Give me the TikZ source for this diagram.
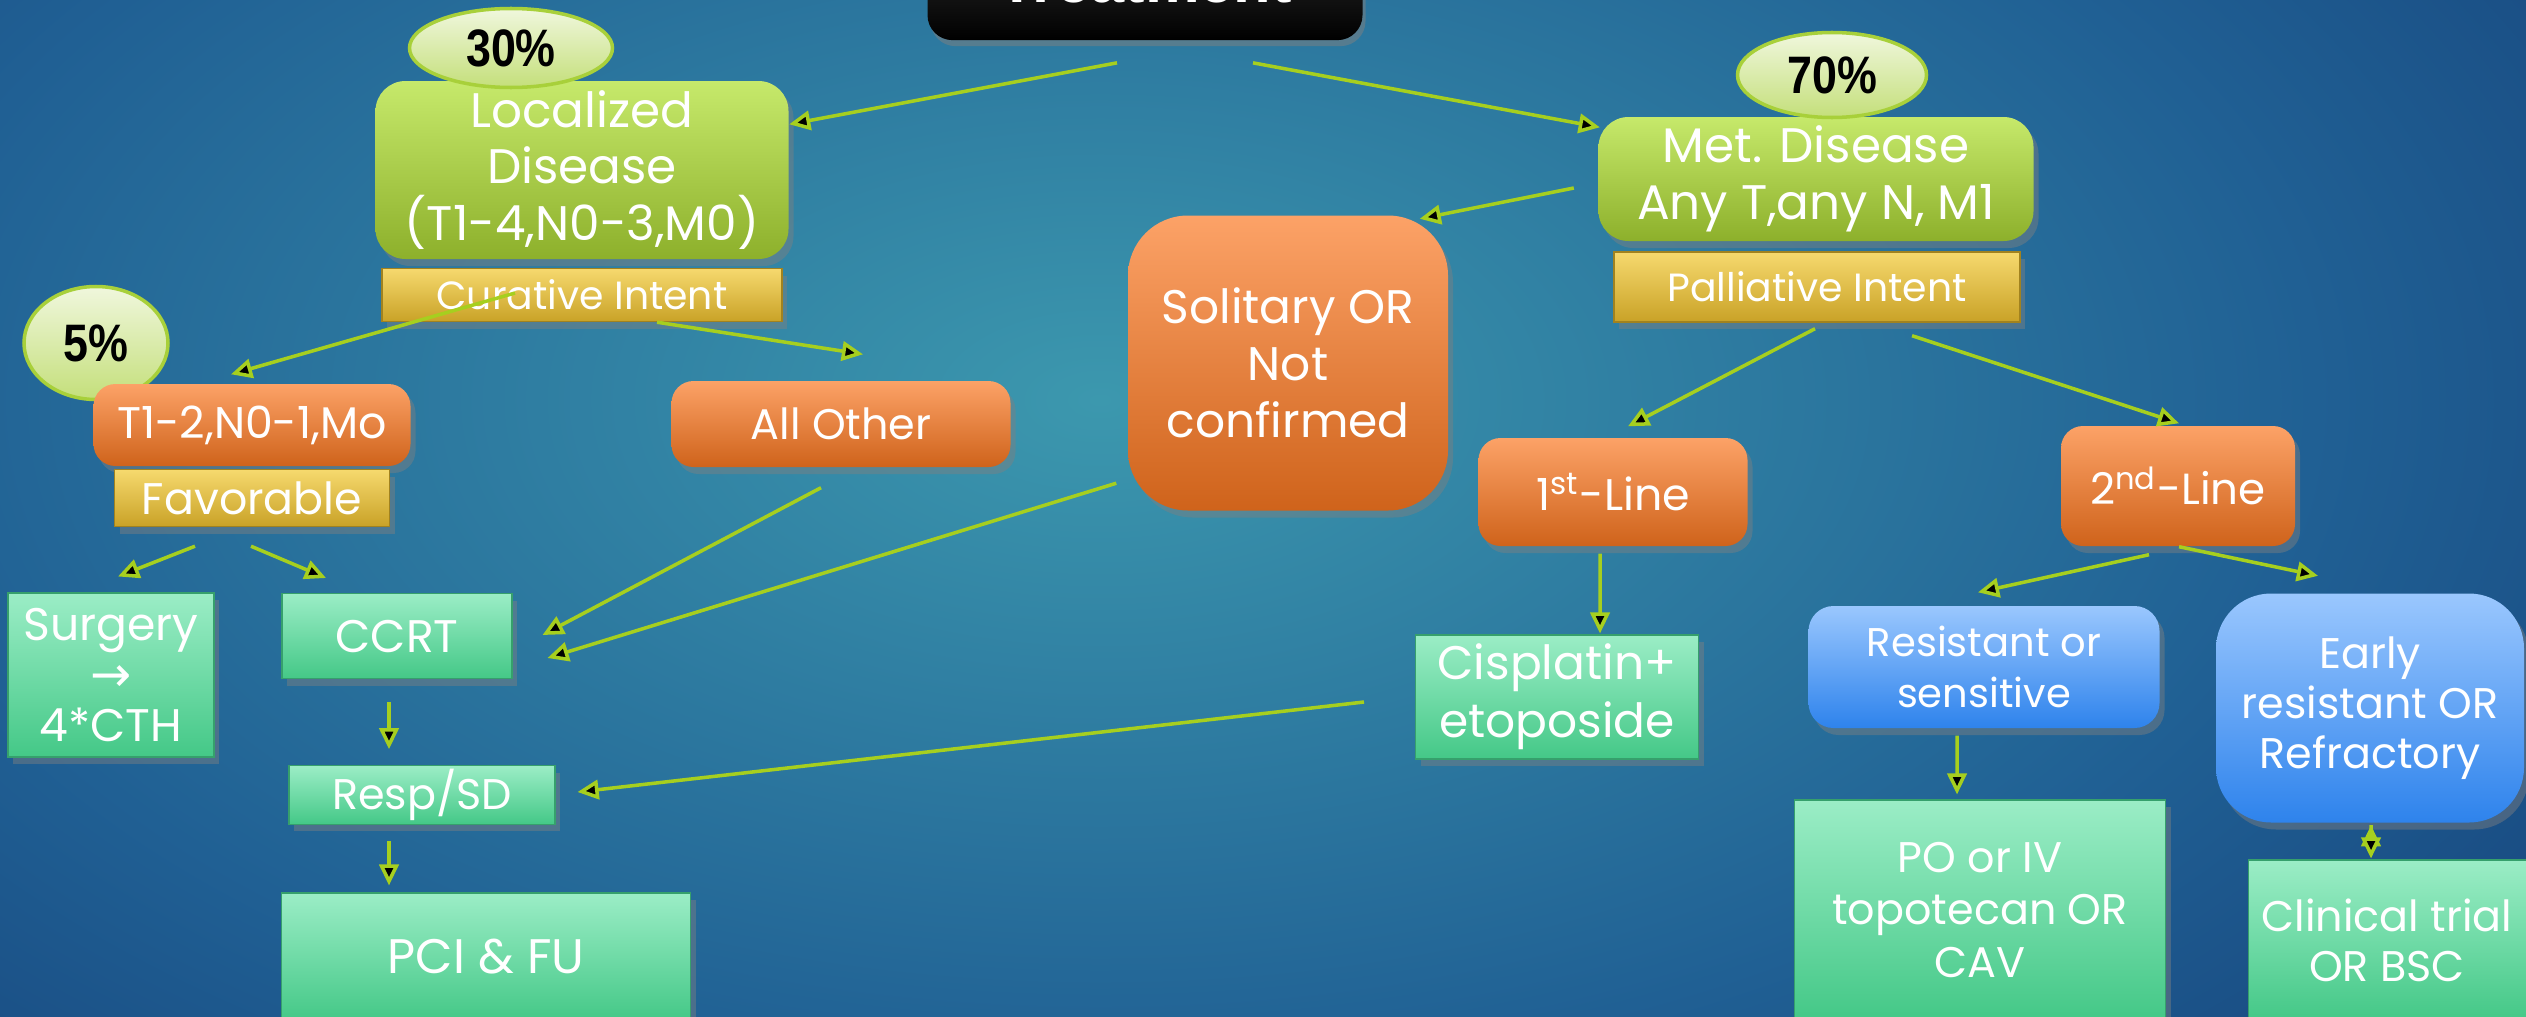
\documentclass[tikz,border=0pt]{standalone}
\usepackage{fontspec}
\setmainfont{Poppins}
\newfontfamily\pctfont[FakeStretch=0.85]{Liberation Sans}
\newfontfamily\titlefont{Liberation Sans}
\newfontfamily\symfont{DejaVu Sans}
\usepackage{tikz}
\usetikzlibrary{arrows.meta,shapes.geometric,shadows,positioning}
\usepackage{xcolor}
\definecolor{bgteal}{RGB}{60,152,174}
\definecolor{bgmid}{RGB}{32,96,148}
\definecolor{bgnavy}{RGB}{12,38,98}
\definecolor{grtop}{RGB}{198,233,107}
\definecolor{grbot}{RGB}{141,176,43}
\definecolor{gdtop}{RGB}{246,217,110}
\definecolor{gdbot}{RGB}{201,162,39}
\definecolor{ortop}{RGB}{252,162,103}
\definecolor{orbot}{RGB}{207,99,27}
\definecolor{mntop}{RGB}{155,237,198}
\definecolor{mnbot}{RGB}{68,200,135}
\definecolor{bltop}{RGB}{154,199,254}
\definecolor{blbot}{RGB}{46,131,236}
\definecolor{eltop}{RGB}{240,247,221}
\definecolor{elbot}{RGB}{196,223,122}
\definecolor{elline}{RGB}{168,208,58}
\definecolor{arrowc}{RGB}{166,207,31}
\pgfdeclareradialshading{bgshade}{\pgfpoint{0bp}{0bp}}{color(0bp)=(bgteal); color(14bp)=(bgmid); color(30bp)=(bgnavy); color(50bp)=(bgnavy)}

\begin{document}
\begin{tikzpicture}[x=1cm,y=1cm,
  box/.style={text=white,align=center,inner sep=1pt,
    drop shadow={opacity=0.45,shadow xshift=0.05cm,shadow yshift=-0.07cm}},
  greenbox/.style={box,rounded corners=0.3cm,top color=grtop,bottom color=grbot},
  goldbox/.style={box,top color=gdtop,bottom color=gdbot,draw=gdbot!80!black,line width=0.4pt},
  orangebox/.style={box,rounded corners=0.22cm,top color=ortop,bottom color=orbot},
  mintbox/.style={box,top color=mntop,bottom color=mnbot,draw=mnbot!80!black,line width=0.3pt},
  bluebox/.style={box,rounded corners=0.25cm,top color=bltop,bottom color=blbot},
  ell/.style={ellipse,inner sep=0pt,top color=eltop,bottom color=elbot,draw=elline,line width=1pt,
    font=\pctfont\bfseries\fontsize{15}{17}\selectfont},
  titlebox/.style={rounded corners=0.25cm,top color=black!80,bottom color=black,text=white,
    minimum width=4.35cm,minimum height=1.18cm,font=\titlefont\bfseries\fontsize{17.5}{20}\selectfont,
    drop shadow={opacity=0.5,shadow xshift=0.03cm,shadow yshift=-0.06cm}},
  arr/.style={-{Triangle[length=6pt,width=5.5pt]},line width=1pt,draw=arrowc}]
\useasboundingbox (0,0) rectangle (25.26,-10.16);
\clip (0,0) rectangle (25.26,-10.16);
\shade[shading=bgshade] (-10.67,8.0) rectangle (32.67,-16.0);

\node[titlebox,anchor=base] (Title) at (11.45,-0.02) {Treatment};

\node[greenbox,minimum width=4.13cm,minimum height=1.78cm,font=\fontsize{13.8}{16.2}\selectfont] (Loc) at (5.82,-1.70) {Localized\\Disease\\(T1-4,N0-3,M0)};
\node[ell,minimum width=2.03cm,minimum height=0.79cm] (P30) at (5.11,-0.48) {30\%};
\node[goldbox,minimum width=4.00cm,minimum height=0.53cm,font=\fontsize{11.2}{13}\selectfont] (Cur) at (5.82,-2.95) {Curative Intent};
\node[ell,minimum width=1.44cm,minimum height=1.13cm] (P5) at (0.96,-3.43) {5\%};
\node[orangebox,minimum width=3.17cm,minimum height=0.82cm,font=\fontsize{12.6}{14}\selectfont] (T12) at (2.52,-4.25) {T1-2,N0-1,Mo};
\node[goldbox,minimum width=2.75cm,minimum height=0.57cm,font=\fontsize{12.6}{14}\selectfont] (Fav) at (2.52,-4.98) {Favorable};
\node[orangebox,minimum width=3.39cm,minimum height=0.86cm,font=\fontsize{12.2}{14}\selectfont] (Oth) at (8.41,-4.24) {All Other};
\node[mintbox,minimum width=2.06cm,minimum height=1.64cm,font=\fontsize{13}{14.4}\selectfont] (Surg) at (1.11,-6.75) {Surgery\\{\symfont\fontsize{14}{14.4}\selectfont →}\\4*CTH};
\node[mintbox,minimum width=2.30cm,minimum height=0.85cm,font=\fontsize{13}{14.2}\selectfont] (CCRT) at (3.97,-6.36) {CCRT};
\node[mintbox,minimum width=2.66cm,minimum height=0.44cm,font=\fontsize{12.2}{14}\selectfont] (Resp) at (4.22,-7.95) {Resp/SD};
\node[mintbox,minimum width=4.09cm,minimum height=1.28cm,font=\fontsize{13.8}{16}\selectfont] (PCI) at (4.86,-9.57) {PCI \& FU};

\node[orangebox,rounded corners=0.6cm,minimum width=3.20cm,minimum height=2.95cm,font=\fontsize{13.4}{16.2}\selectfont] (Sol) at (12.88,-3.63) {Solitary OR\\Not\\confirmed};
\node[greenbox,minimum width=4.35cm,minimum height=1.24cm,font=\fontsize{13.8}{16.2}\selectfont] (Met) at (18.16,-1.79) {Met. Disease\\Any T,any N, M1};
\node[ell,minimum width=1.89cm,minimum height=0.85cm] (P70) at (18.32,-0.75) {70\%};
\node[goldbox,minimum width=4.06cm,minimum height=0.70cm,font=\fontsize{11.2}{13}\selectfont] (Pal) at (18.17,-2.87) {Palliative Intent};
\node[orangebox,minimum width=2.69cm,minimum height=1.08cm,font=\fontsize{12.6}{14}\selectfont] (L1) at (16.13,-4.92) {1\textsuperscript{st}-Line};
\node[orangebox,minimum width=2.34cm,minimum height=1.20cm,font=\fontsize{12.4}{14}\selectfont] (L2) at (21.78,-4.86) {2\textsuperscript{nd}-Line};
\node[mintbox,minimum width=2.83cm,minimum height=1.24cm,font=\fontsize{13.4}{16.5}\selectfont] (Cis) at (15.57,-6.97) {Cisplatin+\\etoposide};
\node[bluebox,minimum width=3.51cm,minimum height=1.22cm,font=\fontsize{11.4}{14.5}\selectfont] (Res) at (19.84,-6.67) {Resistant or\\sensitive};
\node[bluebox,rounded corners=0.55cm,minimum width=3.08cm,minimum height=2.29cm,font=\fontsize{12.2}{14.2}\selectfont] (Early) at (23.70,-7.08) {Early\\resistant OR\\Refractory};
\node[mintbox,minimum width=3.71cm,minimum height=2.20cm,font=\fontsize{12.2}{15}\selectfont] (PO) at (19.80,-9.10) {PO or IV\\topotecan OR\\CAV};
\node[mintbox,minimum width=2.78cm,minimum height=1.60cm,font=\fontsize{12.2}{14.2}\selectfont] (Clin) at (23.87,-9.40) {Clinical trial\\OR BSC};

\path[arr]
([xshift=-0.28cm,yshift=-0.22cm]Title.south) edge ([yshift=-0.44cm]Loc.north east)
([xshift=1.08cm,yshift=-0.22cm]Title.south) edge ([xshift=0.02cm,yshift=-0.11cm]Met.north west)
([xshift=-0.24cm,yshift=-0.09cm]Met.west) edge ([xshift=-0.29cm,yshift=-0.04cm]Sol.north east)
([xshift=-0.67cm,yshift=0.02cm]Cur.center) edge ([xshift=-0.21cm,yshift=0.09cm]T12.north)
([xshift=0.75cm]Cur.south) edge ([xshift=0.22cm,yshift=0.26cm]Oth.north)
([xshift=-0.57cm,yshift=-0.19cm]Fav.south) edge ([xshift=0.07cm,yshift=0.16cm]Surg.north)
([xshift=-0.01cm,yshift=-0.19cm]Fav.south) edge ([xshift=-0.71cm,yshift=0.15cm]CCRT.north)
([xshift=-0.20cm,yshift=-0.20cm]Oth.south) edge ([xshift=0.30cm,yshift=0.01cm]CCRT.east)
([xshift=-0.11cm,yshift=0.28cm]Sol.south west) edge ([xshift=0.35cm,yshift=-0.22cm]CCRT.east)
([xshift=-0.08cm,yshift=-0.23cm]CCRT.south) edge ([xshift=-0.33cm,yshift=0.16cm]Resp.north)
([xshift=-0.33cm,yshift=-0.16cm]Resp.south) edge ([xshift=-0.97cm,yshift=0.07cm]PCI.north)
([xshift=-0.51cm,yshift=-0.05cm]Cis.west) edge ([xshift=0.22cm,yshift=0.03cm]Resp.east)
([xshift=-0.02cm,yshift=-0.06cm]Pal.south) edge ([xshift=0.15cm,yshift=0.11cm]L1.north)
([xshift=0.95cm,yshift=-0.13cm]Pal.south) edge ([xshift=0.01cm,yshift=0.02cm]L2.north)
([xshift=-0.13cm,yshift=-0.07cm]L1.south) edge ([xshift=0.43cm,yshift=0.01cm]Cis.north)
([xshift=-0.29cm,yshift=-0.08cm]L2.south) edge ([xshift=-0.06cm,yshift=0.13cm]Res.north)
([xshift=0.01cm]L2.south) edge ([xshift=-0.52cm,yshift=0.17cm]Early.north)
([xshift=-0.27cm,yshift=-0.07cm]Res.south) edge ([xshift=-0.23cm,yshift=0.05cm]PO.north)
([xshift=0.01cm,yshift=-0.02cm]Early.south) edge ([xshift=-0.16cm,yshift=0.01cm]Clin.north);
\end{tikzpicture}
\end{document}
